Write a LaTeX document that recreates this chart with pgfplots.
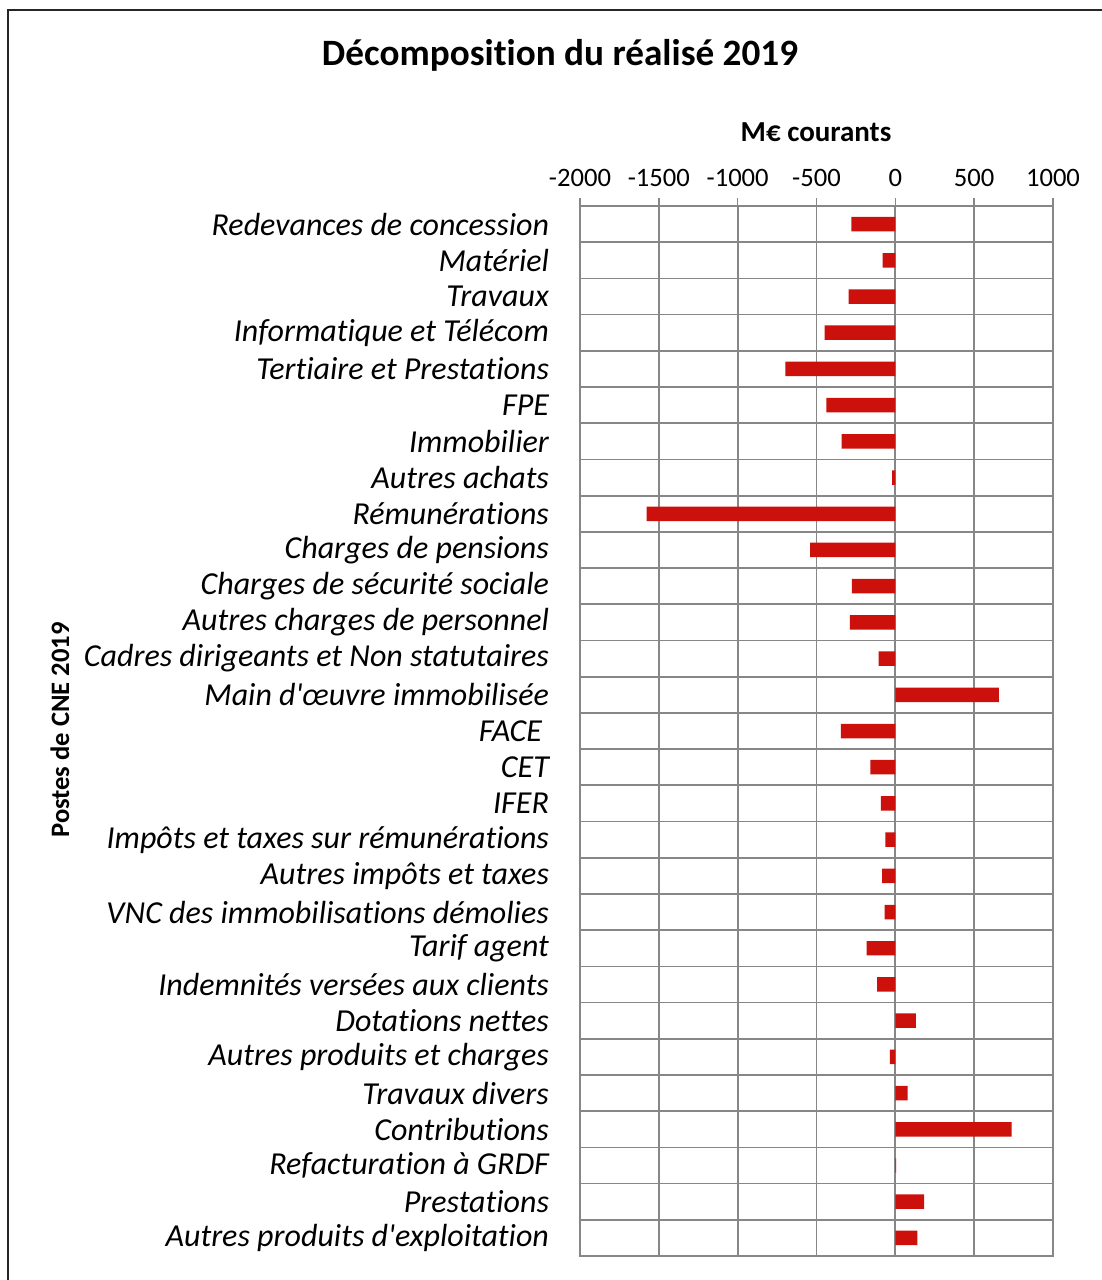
\documentclass[border=0pt]{standalone}
\usepackage{fontspec}
\setmainfont{Carlito}[Ligatures={TeX,NoCommon}]
\usepackage{pgfplots}
\pgfplotsset{compat=1.18}
\definecolor{barred}{RGB}{204,16,12}
\definecolor{gridgray}{RGB}{135,135,135}
\begin{document}
\begin{tikzpicture}
\useasboundingbox (0,0) rectangle (551pt,640pt);
\fill[white] (0,0) rectangle (551pt,640pt);
\begin{scope}
\clip (0,0) rectangle (551pt,640pt);
\draw[line width=0.9pt, black!85] (4pt,-10pt) rectangle (570pt,635pt);
\end{scope}
\node[font=\bfseries\fontsize{18.6}{22}\selectfont] at (280pt,612.5pt) {Décomposition du réalisé 2019};
\node[font=\bfseries\fontsize{14.5}{17}\selectfont] at (408pt,574pt) {M€ courants};
\node[font=\bfseries\fontsize{13.3}{16}\selectfont, rotate=90] at (30pt,275pt) {Postes de CNE 2019};
\begin{axis}[
  at={(290pt,12pt)}, anchor=south west, scale only axis,
  width=236.5pt, height=525pt,
  xbar, bar width=0.4,
  xmin=-2000, xmax=1000,
  xtick={-2000,-1500,-1000,-500,0,500,1000},
  xticklabels={-2000,-1500,-1000,-500,0,500,1000},
  xtick pos=right, xticklabel pos=right,
  tick align=outside, major tick length=4pt,
  xtick style={line width=0.8pt, gridgray},
  xticklabel style={font=\fontsize{13.3}{16}\selectfont, yshift=2pt},
  ymin=-0.5, ymax=28.5, y dir=reverse,
  ytick={0,...,28},
  minor ytick={-0.5,0.5,...,28.5},
  ytick style={draw=none},
  minor tick length=0pt,
  yticklabel style={font=\itshape\fontsize{16}{18}\selectfont, anchor=east, xshift=-8pt},
  yticklabels={
    Redevances de concession,
    Matériel,
    Travaux,
    Informatique et Télécom,
    Tertiaire et Prestations,
    FPE,
    Immobilier,
    Autres achats,
    Rémunérations,
    Charges de pensions,
    Charges de sécurité sociale,
    Autres charges de personnel,
    Cadres dirigeants et Non statutaires,
    Main d\textquotesingle œuvre immobilisée,
    FACE\kern3.5pt,
    CET,
    IFER,
    Impôts et taxes sur rémunérations,
    Autres impôts et taxes,
    VNC des immobilisations démolies,
    Tarif agent,
    Indemnités versées aux clients,
    Dotations nettes,
    Autres produits et charges,
    Travaux divers,
    Contributions,
    Refacturation à GRDF,
    Prestations,
    Autres produits d\textquotesingle exploitation},
  xmajorgrids, yminorgrids,
  major grid style={line width=0.85pt, gridgray},
  minor grid style={line width=0.85pt, gridgray},
  axis line style={line width=0.85pt, gridgray},
]
\addplot[fill=barred, draw=none] coordinates {
  (-279,0) (-80,1) (-296,2) (-449,3) (-698,4) (-438,5) (-341,6) (-21,7)
  (-1577,8) (-540,9) (-275,10) (-288,11) (-106,12) (656,13) (-345,14)
  (-159,15) (-91,16) (-63,17) (-83,18) (-68,19) (-182,20) (-116,21)
  (131,22) (-34,23) (78,24) (738,25) (5,26) (182,27) (140,28)
};
\end{axis}
\end{tikzpicture}
\end{document}
